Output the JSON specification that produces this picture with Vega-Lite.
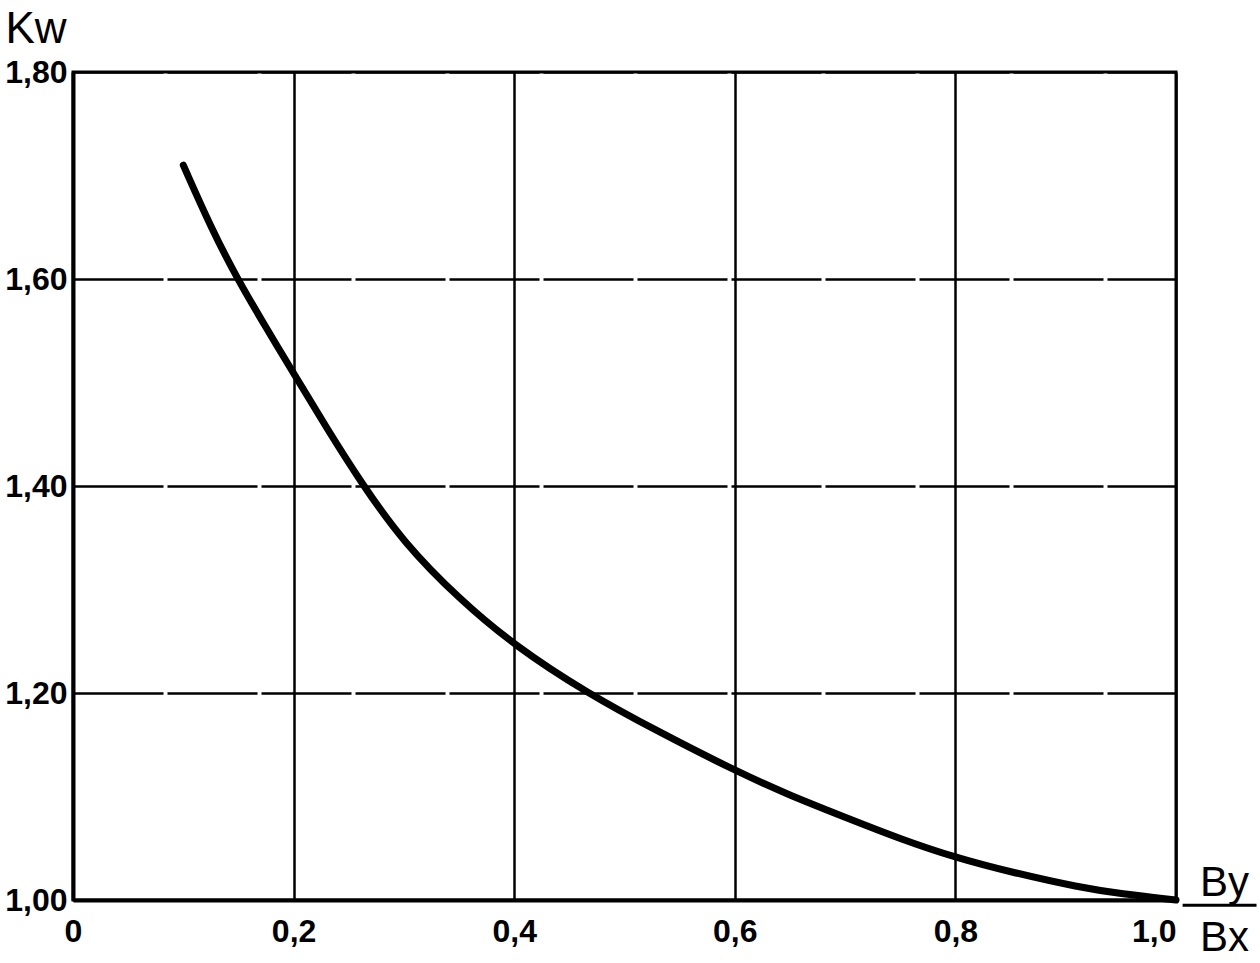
{
  "$schema": "https://vega.github.io/schema/vega-lite/v6.json",
  "autosize": "none",
  "width": 1103,
  "height": 828,
  "padding": {"left": 73, "top": 72, "right": 84, "bottom": 63},
  "background": "white",
  "config": {
    "view": {"stroke": "black", "strokeWidth": 3},
    "font": "Liberation Sans"
  },
  "datasets": {
    "curve": [
      {"ratio": 0.100, "kw": 1.710},
      {"ratio": 0.125, "kw": 1.650},
      {"ratio": 0.148, "kw": 1.602},
      {"ratio": 0.175, "kw": 1.553},
      {"ratio": 0.200, "kw": 1.509},
      {"ratio": 0.230, "kw": 1.456},
      {"ratio": 0.262, "kw": 1.402},
      {"ratio": 0.300, "kw": 1.345},
      {"ratio": 0.350, "kw": 1.291},
      {"ratio": 0.400, "kw": 1.246},
      {"ratio": 0.466, "kw": 1.200},
      {"ratio": 0.530, "kw": 1.163},
      {"ratio": 0.600, "kw": 1.125},
      {"ratio": 0.650, "kw": 1.101},
      {"ratio": 0.700, "kw": 1.080},
      {"ratio": 0.750, "kw": 1.059},
      {"ratio": 0.800, "kw": 1.041},
      {"ratio": 0.850, "kw": 1.027},
      {"ratio": 0.913, "kw": 1.012},
      {"ratio": 0.950, "kw": 1.006},
      {"ratio": 1.000, "kw": 1.000}
    ],
    "bar": [{"x1": 1.006, "x2": 1.073, "y": 0.995}]
  },
  "layer": [
    {
      "data": {"name": "curve"},
      "mark": {"type": "line", "color": "black", "strokeWidth": 7, "strokeCap": "round", "strokeJoin": "round", "interpolate": "basis"},
      "encoding": {
        "x": {
          "field": "ratio", "type": "quantitative",
          "scale": {"domain": [0, 1], "nice": false, "zero": false},
          "axis": {
            "values": [0, 0.2, 0.4, 0.6, 0.8, 1.0],
            "labelExpr": "datum.value == 0 ? '0' : replace(format(datum.value, '.1f'), '.', ',')",
            "labelAlign": {"condition": {"test": "datum.value == 1", "value": "right"}, "value": "center"},
            "labelDx": {"condition": {"test": "datum.value == 1", "value": 4}, "value": 0},
            "grid": true, "gridColor": "black", "gridWidth": 2.5, "gridOpacity": 1,
            "ticks": false,
            "domainColor": "black", "domainWidth": 4,
            "labelFont": "Liberation Sans", "labelFontSize": 32, "labelFontWeight": "bold", "labelColor": "black",
            "labelPadding": 16, "labelFlush": false, "labelOverlap": false,
            "title": ["By", "Bx"],
            "titleFont": "Liberation Sans", "titleFontSize": 42, "titleFontWeight": "normal",
            "titleColor": "black", "titleLineHeight": 55,
            "titleX": 1151, "titleY": -5, "titleAlign": "center", "titleBaseline": "alphabetic", "titleAngle": 0
          }
        },
        "y": {
          "field": "kw", "type": "quantitative",
          "scale": {"domain": [1, 1.8], "nice": false, "zero": false},
          "axis": {
            "values": [1.0, 1.2, 1.4, 1.6, 1.8],
            "labelExpr": "replace(format(datum.value, '.2f'), '.', ',')",
            "grid": true, "gridColor": "black", "gridWidth": 2.5, "gridOpacity": 1, "gridDash": [90, 4],
            "ticks": false,
            "domainColor": "black", "domainWidth": 4,
            "labelFont": "Liberation Sans", "labelFontSize": 32, "labelFontWeight": "bold", "labelColor": "black",
            "labelPadding": 6, "labelFlush": false, "labelOverlap": false,
            "title": "Kw",
            "titleFont": "Liberation Sans", "titleFontSize": 44, "titleFontWeight": "normal",
            "titleColor": "black",
            "titleX": -68, "titleY": -30, "titleAlign": "left", "titleBaseline": "alphabetic", "titleAngle": 0
          }
        }
      }
    },
    {
      "data": {"name": "bar"},
      "mark": {"type": "rule", "color": "black", "strokeWidth": 3, "clip": false},
      "encoding": {
        "x": {"field": "x1", "type": "quantitative"},
        "x2": {"field": "x2"},
        "y": {"field": "y", "type": "quantitative"}
      }
    }
  ]
}
